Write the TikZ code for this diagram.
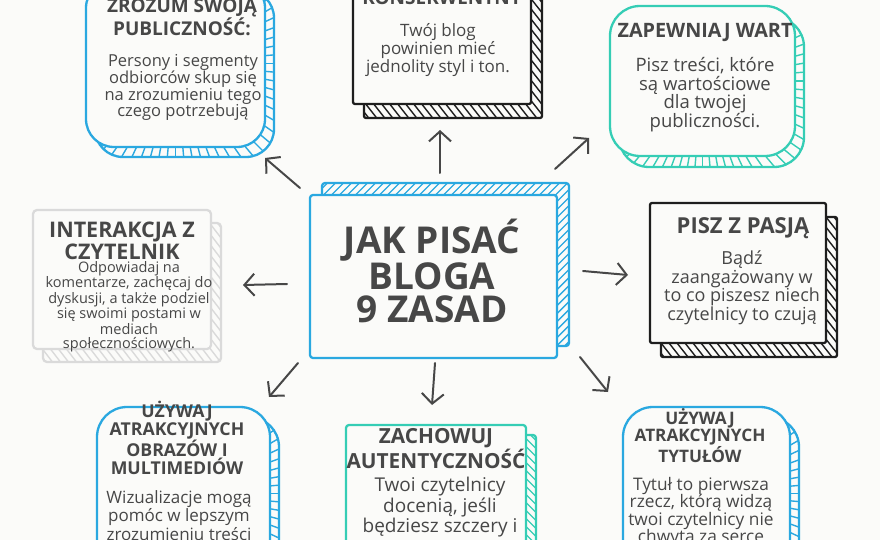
\documentclass[tikz,border=0pt]{standalone}
\usepackage{fontspec}
\setmainfont{Open Sans}
\usetikzlibrary{arrows.meta}
\definecolor{bg}{HTML}{FBFBF9}
\definecolor{cblue}{HTML}{2AA8E0}
\definecolor{cteal}{HTML}{35CDB5}
\definecolor{cblack}{HTML}{1E1E1E}
\definecolor{cgray}{HTML}{DADADA}
\definecolor{ctext}{HTML}{474747}
\tikzset{
  outline/.style={line width=2.3pt,line cap=round,line join=round},
  hatchline/.style={line width=1.4pt,line cap=round},
  hd/.style={text=ctext,align=center,inner sep=0pt,anchor=base},
  bd/.style={text=ctext,align=center,inner sep=0pt,anchor=base},
  arr/.style={draw=ctext,line width=2pt,line cap=round,-{Straight Barb[length=10pt,width=22pt,line width=2pt]}}
}
% #1 colour, #2 x1, #3 y1, #4 x2, #5 y2, #6 dx, #7 dy, #8 radius, #9 hatch type (r radial / d diagonal)
\newcommand{\dbox}[9]{%
  \begin{scope}
    \clip[rounded corners=#8] ({#2+#6},{#3+#7}) rectangle ({#4+#6},{#5+#7});
    \ifx r#9
      \foreach \a in {0,5,...,355} \draw[#1,hatchline] ({(#2+#4)/2},{(#3+#5)/2}) -- ++(\a:500);
    \else
      \foreach \t in {-220,-212,...,460} \draw[#1,hatchline] ({#2+\t-30*#6},{(#3+#5)/2-30*#7}) -- ({#2+\t+30*#6},{(#3+#5)/2+30*#7});
    \fi
  \end{scope}
  \draw[#1,outline,rounded corners=#8] ({#2+#6},{#3+#7}) rectangle ({#4+#6},{#5+#7});
  \draw[#1,outline,fill=bg,rounded corners=#8] (#2,#3) rectangle (#4,#5);
}
\begin{document}
\begin{tikzpicture}[x=1pt,y=-1pt]
\fill[bg] (0,0) rectangle (880,540);
\useasboundingbox (0,0) rectangle (880,540);
\clip (0,0) rectangle (880,540);

% boxes
\dbox{cblue}{86}{-20}{265}{147}{9}{10}{28pt}{r}
\dbox{cblack}{353}{-20}{531}{104}{11}{14}{2pt}{d}
\dbox{cteal}{610}{6}{795}{156}{9}{11}{30pt}{r}
\dbox{cgray}{33}{210}{211}{349}{10}{13}{4pt}{d}
\dbox{cblue}{310}{195}{557}{358}{12}{-12}{3pt}{d}
\dbox{cblack}{650}{203}{826}{343}{11}{14}{2pt}{d}
\dbox{cblue}{97}{407}{270}{580}{9}{10}{30pt}{r}
\dbox{cteal}{346}{425}{526}{580}{10}{10}{3pt}{d}
\dbox{cblue}{623}{407}{790}{580}{9}{10}{30pt}{r}

% texts (anchor = baseline of the last line)
\node[hd,font=\bfseries\fontsize{19}{17}\selectfont] (t1h) at (182,36) {ZROZUM SWOJĄ\\PUBLICZNOŚĆ:};
\node[bd,font=\fontsize{16.5}{16.7}\selectfont] (t1b) at (183,117) {Persony i segmenty\\odbiorców skup się\\na zrozumieniu tego\\czego potrzebują};

\node[hd,font=\bfseries\fontsize{19}{17}\selectfont] (t2h) at (442,5) {KONSEKWENTNY};
\node[bd,font=\fontsize{17}{18}\selectfont] (t2b) at (438,73) {Twój blog\\powinien mieć\\jednolity styl i ton.};

\node[hd,font=\bfseries\fontsize{19.8}{17}\selectfont] (t3h) at (705,38) {ZAPEWNIAJ WART};
\node[bd,font=\fontsize{18.5}{18.3}\selectfont] (t3b) at (705,128) {Pisz treści, które\\są wartościowe\\dla twojej\\publiczności.};

\node[hd,font=\bfseries\fontsize{21.5}{19}\selectfont] (t4h) at (122,259) {INTERAKCJA Z\\CZYTELNIK};
\node[bd,font=\fontsize{14.5}{13.9}\selectfont] (t4b) at (129,348) {Odpowiadaj na\\komentarze, zachęcaj do\\dyskusji, a także podziel\\się swoimi postami w\\mediach\\społecznościowych.};

\node[hd,font=\bfseries\fontsize{37}{33}\selectfont] (t5) at (432,322) {JAK PISAĆ\\BLOGA\\9 ZASAD};

\node[hd,font=\bfseries\fontsize{22}{18}\selectfont] (t6h) at (743,233) {PISZ Z PASJĄ};
\node[bd,font=\fontsize{18}{18.5}\selectfont] (t6b) at (742,320) {Bądź\\zaangażowany w\\to co piszesz niech\\czytelnicy to czują};

\node[hd,font=\bfseries\fontsize{17.7}{15.3}\selectfont] (t7h) at (177,474) {UŻYWAJ\\ATRAKCYJNYCH\\OBRAZÓW I\\MULTIMEDIÓW};
\node[bd,font=\fontsize{17}{16.5}\selectfont] (t7b) at (179,540) {Wizualizacje mogą\\pomóc w lepszym\\zrozumieniu treści};

\node[hd,font=\bfseries\fontsize{20.8}{16}\selectfont] (t8h) at (436,468) {ZACHOWUJ\\AUTENTYCZNOŚĆ};
\node[bd,font=\fontsize{19}{18.5}\selectfont] (t8b) at (440,532) {Twoi czytelnicy\\docenią, jeśli\\będziesz szczery i};

\node[hd,font=\bfseries\fontsize{17.2}{16}\selectfont] (t9h) at (700,462) {UŻYWAJ\\ATRAKCYJNYCH\\TYTUŁÓW};
\node[bd,font=\fontsize{17.3}{17.5}\selectfont] (t9b) at (701,542.5) {Tytuł to pierwsza\\rzecz, którą widzą\\twoi czytelnicy nie\\chwyta za serce};

% arrow end points
\coordinate (a1s) at (300,188); \coordinate (a1e) at (265,158);
\coordinate (a2s) at (440,173); \coordinate (a2e) at (440,130);
\coordinate (a3s) at (555,169); \coordinate (a3e) at (589,138);
\coordinate (a4s) at (287,284); \coordinate (a4e) at (243,285);
\coordinate (a5s) at (583,271); \coordinate (a5e) at (628,275);
\coordinate (a6s) at (298,363); \coordinate (a6e) at (269,397);
\coordinate (a7s) at (435,363); \coordinate (a7e) at (432,405);
\coordinate (a8s) at (580,357); \coordinate (a8e) at (608,392);
\foreach \i in {1,...,8} \draw[arr] (a\i s) -- (a\i e);
\end{tikzpicture}
\end{document}
